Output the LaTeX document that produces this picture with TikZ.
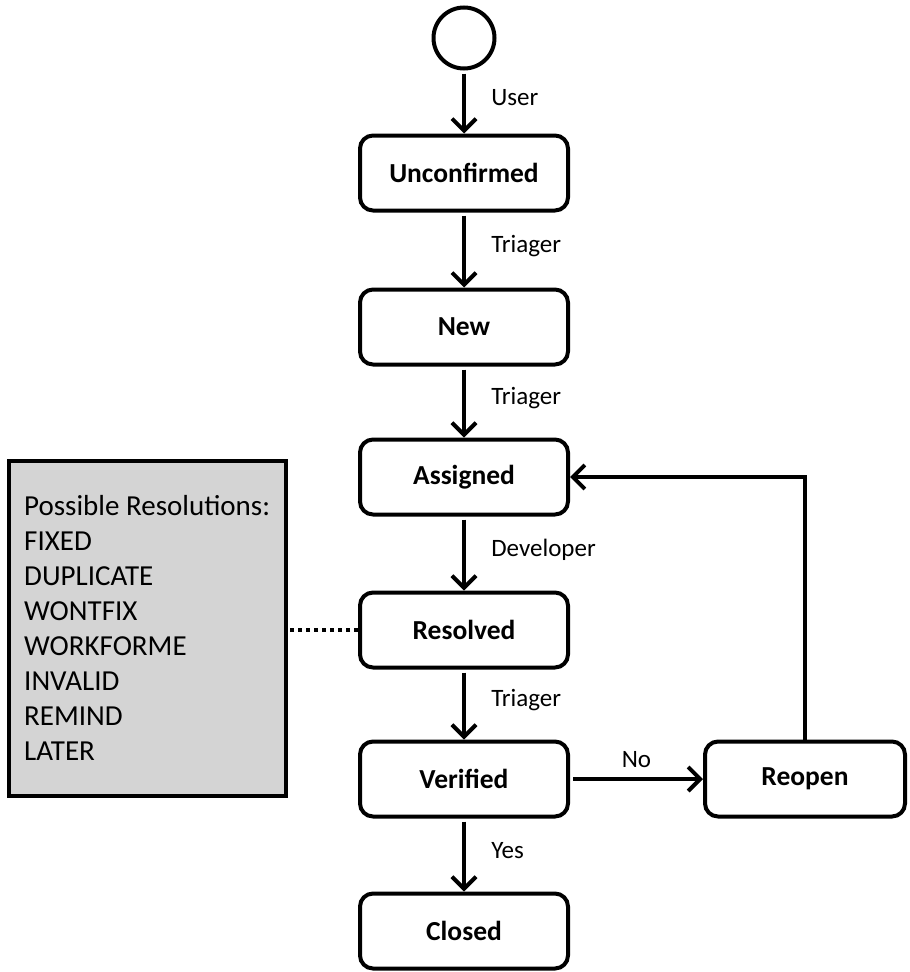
\documentclass[tikz,border=0pt]{standalone}
\usepackage{fontspec}
\setmainfont{Carlito}
\usetikzlibrary{arrows.meta}
\begin{document}
\begin{tikzpicture}[x=1pt,y=-1pt,
  state/.style={draw, line width=4pt, rounded corners=13pt, minimum width=208pt, minimum height=75pt, font=\fontsize{27.5}{30}\selectfont\bfseries, inner sep=0pt},
  arr/.style={line width=4pt, shorten <=3pt, -{Straight Barb[length=12pt,width=24pt]}},
  lbl/.style={font=\fontsize{25}{28}\selectfont, anchor=west, xshift=22pt, yshift=4pt},
  resbox/.style={draw, line width=4pt, fill=black!17, minimum width=277pt, minimum height=335pt, inner sep=0pt},
  restext/.style={font=\fontsize{29}{35}\selectfont, align=left, anchor=west, inner sep=0pt}
]
\useasboundingbox (0,0) rectangle (910,972);
\node[draw, circle, line width=4pt, minimum size=61pt, inner sep=0pt] (start) at (464,38) {};
\node[state] (unc) at (464,173) {Unconfirmed};
\node[state] (new) at (464,327) {New};
\node[state] (asg) at (464,477) {Assigned};
\node[state] (rsv) at (464,630) {Resolved};
\node[state] (ver) at (464,779) {Verified};
\node[state] (cls) at (464,931) {Closed};
\node[state, minimum width=200pt] (reo) at (805,779) {Reopen};
\node[resbox] (res) at (147,628) {};
\node[restext] (restx) at (24,628) {Possible Resolutions:\\FIXED\\DUPLICATE\\WONTFIX\\WORKFORME\\INVALID\\REMIND\\LATER};

\draw[arr] (start) -- node[lbl] {User} (unc);
\draw[arr] (unc) -- node[lbl] {Triager} (new);
\draw[arr] (new) -- node[lbl] {Triager} (asg);
\draw[arr] (asg) -- node[lbl] {Developer} (rsv);
\draw[arr] (rsv) -- node[lbl] {Triager} (ver);
\draw[arr] (ver) -- node[lbl] {Yes} (cls);
\draw[arr] (ver) -- node[font=\fontsize{25}{28}\selectfont, above=6pt] {No} (reo);
\draw[arr, shorten <=0pt] (reo.north) |- (asg.east);
\draw[line width=4pt, dash pattern=on 4.5pt off 3.5pt] (rsv.west) -- (rsv.west -| res.east);
\end{tikzpicture}
\end{document}
